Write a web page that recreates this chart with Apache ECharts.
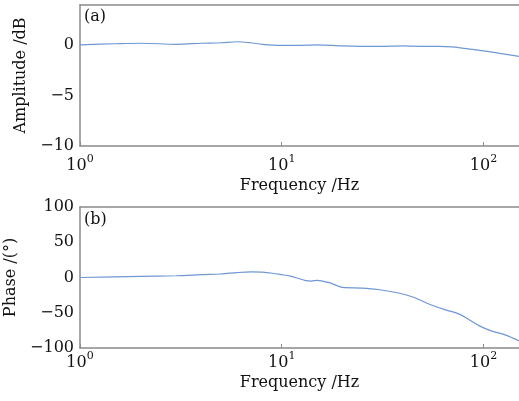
<!DOCTYPE html>
<html><head><meta charset="utf-8">
<script src="https://cdn.jsdelivr.net/npm/echarts@6/dist/echarts.min.js"></script>
<style>html,body{margin:0;padding:0;background:#fff}#c{width:519px;height:401px}</style>
</head><body><div id="c"></div>
<script>
const freqA = [1, 1.5, 2, 3, 4, 5, 6, 7, 8, 10, 12, 15, 20, 30, 40, 50, 60, 70, 80, 100, 120, 150];
const amplitude = [0.05, 0.15, 0.2, 0.1, 0.2, 0.25, 0.35, 0.25, 0.1, 0.0, 0.0, 0.05, -0.05, -0.1, -0.05, -0.1, -0.1, -0.15, -0.3, -0.55, -0.8, -1.1];
const freqP = [1, 2, 3, 4, 5, 6, 7, 8, 9, 10, 11, 12, 13, 14, 15, 17, 19, 20, 25, 30, 38, 45, 54, 65, 76, 85, 96, 110, 127, 140, 150];
const phase = [0, 1.5, 2.5, 4, 5, 7, 8, 7.5, 6, 4, 2, -1, -4, -5, -4, -7, -12, -14, -15, -17, -22, -28, -38, -46, -52, -60, -69, -76, -81, -86, -90];
const xTicks = [1, 10, 100];
const ampTicks = [-10, -5, 0];
const phaseTicks = [-100, -50, 0, 50, 100];
const labels = {title: ['Amplitude /dB', 'Phase /(°)'], xName: 'Frequency /Hz', panels: ['(a)', '(b)']};

const FONT = 'DejaVu Serif';
const FS = 16;
const AX = '#8a8a8a';
const TXT = '#111';
const chart = echarts.init(document.getElementById('c'));
const supFmt = v => '{b|10}{s|' + Math.round(Math.log10(v)) + '}';
const rich = {b: {fontFamily: FONT, fontSize: FS, color: TXT, lineHeight: 20, verticalAlign: 'bottom'},
              s: {fontFamily: FONT, fontSize: 11, color: TXT, lineHeight: 20, verticalAlign: 'top'}};
function xAxisDef(grid, margin, gap) {
  return {type: 'log', logBase: 10, gridIndex: grid, min: 1, max: 150,
    name: labels.xName, nameLocation: 'middle', nameGap: gap,
    nameTextStyle: {fontFamily: FONT, fontSize: FS, color: TXT},
    axisLine: {onZero: false, lineStyle: {color: AX, width: 1.5}},
    axisTick: {inside: true, length: 4, customValues: xTicks, lineStyle: {color: AX}},
    minorTick: {show: false},
    axisLabel: {customValues: xTicks, formatter: supFmt, rich: rich, margin: margin},
    splitLine: {show: false}};
}
function topAxis(grid) {
  return {type: 'log', gridIndex: grid, position: 'top', min: 1, max: 150,
    axisLine: {onZero: false, lineStyle: {color: AX, width: 1.5}}, axisTick: {show: false}, axisLabel: {show: false}, splitLine: {show: false}};
}
function yAxisDef(grid, min, max, ticks, name, gap) {
  return {type: 'value', gridIndex: grid, min: min, max: max,
    name: name, nameLocation: 'middle', nameGap: gap, nameRotate: 90,
    nameTextStyle: {fontFamily: FONT, fontSize: FS, color: TXT},
    axisLine: {show: true, onZero: false, lineStyle: {color: AX, width: 1.5}},
    axisTick: {show: false, customValues: ticks},
    axisLabel: {customValues: ticks, fontFamily: FONT, fontSize: FS, color: TXT, margin: 6,
      formatter: v => String(v).replace('-', '\u2212')},
    splitLine: {show: false}};
}
chart.setOption({
  animation: false,
  grid: [{left: 80, top: 5, right: 0, height: 141, outerBoundsMode: 'none', containLabel: false},
         {left: 80, top: 207, right: 0, height: 141, outerBoundsMode: 'none', containLabel: false}],
  xAxis: [xAxisDef(0, 8, 32), xAxisDef(1, 3, 27), topAxis(0), topAxis(1)],
  yAxis: [yAxisDef(0, -10, 4, ampTicks, labels.title[0], 48), yAxisDef(1, -100, 100, phaseTicks, labels.title[1], 53)],
  graphic: [
    {type: 'text', left: 84, top: 9, style: {text: labels.panels[0], font: FS + 'px "DejaVu Serif"', fill: TXT}},
    {type: 'text', left: 84, top: 212, style: {text: labels.panels[1], font: FS + 'px "DejaVu Serif"', fill: TXT}}
  ],
  series: [
    {type: 'line', xAxisIndex: 0, yAxisIndex: 0, data: freqA.map((f, i) => [f, amplitude[i]]), showSymbol: false, smooth: 0.3,
      lineStyle: {color: '#6f97d6', width: 1.2}},
    {type: 'line', xAxisIndex: 1, yAxisIndex: 1, data: freqP.map((f, i) => [f, phase[i]]), showSymbol: false, smooth: 0.3,
      lineStyle: {color: '#6f97d6', width: 1.2}}
  ]
});
</script></body></html>
